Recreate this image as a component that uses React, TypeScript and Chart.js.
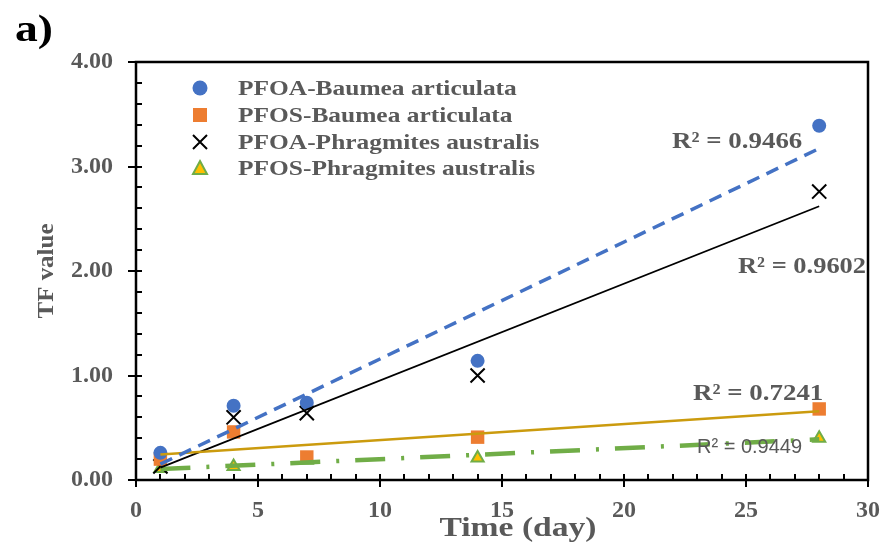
import React, { useEffect, useRef } from 'react';
import { Chart, registerables } from 'chart.js';

Chart.register(...registerables);

// ---- data ----
const days = [1, 4, 7, 14, 28];
const pfoaBaumea = [0.26, 0.71, 0.74, 1.14, 3.39];
const pfosBaumea = [0.2, 0.46, 0.22, 0.41, 0.68];
const pfoaPhragmites = [0.13, 0.6, 0.64, 1.0, 2.76];
const pfosPhragmites = [0.11, 0.13, 0.19, 0.21, 0.4];
const seriesNames = [
  'PFOA-Baumea articulata',
  'PFOS-Baumea articulata',
  'PFOA-Phragmites australis',
  'PFOS-Phragmites australis',
];
const r2Texts = ['R² = 0.9466', 'R² = 0.7241', 'R² = 0.9602', 'R² = 0.9449'];
const xTitle = 'Time (day)';
const yTitle = 'TF value';
const panelLabel = 'a)';

const BLUE = '#4472C4';
const ORANGE = '#ED7D31';
const GREEN = '#70AD47';
const GOLD = '#FFC000';
const TREND_GOLD = '#CB9B0E';
const GRAY = '#595959';
const SERIF = '"Liberation Serif", "DejaVu Serif", serif';

function pts(ys: number[]) {
  return days.map((d, i) => ({ x: d, y: ys[i] }));
}

// least-squares linear trend line (as the spreadsheet's trendline)
function trend(ys: number[]) {
  const n = days.length;
  const mx = days.reduce((a, b) => a + b, 0) / n;
  const my = ys.reduce((a, b) => a + b, 0) / n;
  let sxy = 0;
  let sxx = 0;
  days.forEach((d, i) => {
    sxy += (d - mx) * (ys[i] - my);
    sxx += (d - mx) * (d - mx);
  });
  const b = sxy / sxx;
  const a = my - b * mx;
  const x0 = days[0];
  const x1 = days[n - 1];
  return [
    { x: x0, y: a + b * x0 },
    { x: x1, y: a + b * x1 },
  ];
}

function stretchText(
  ctx: CanvasRenderingContext2D,
  text: string,
  x: number,
  y: number,
  font: string,
  color: string,
  sx: number,
  align: CanvasTextAlign = 'left',
  rot = 0
) {
  ctx.save();
  ctx.font = font;
  ctx.fillStyle = color;
  ctx.textAlign = align;
  ctx.textBaseline = 'alphabetic';
  ctx.translate(x, y);
  if (rot) ctx.rotate(rot);
  ctx.scale(sx, 1);
  ctx.fillText(text, 0, 0);
  ctx.restore();
}

const overlay = {
  id: 'overlay',
  afterDraw(chart: any) {
    const ctx: CanvasRenderingContext2D = chart.ctx;
    const a = chart.chartArea;
    const xs = chart.scales.x;
    const ys = chart.scales.y;
    ctx.save();
    // frame
    ctx.strokeStyle = '#000';
    ctx.lineWidth = 2.5;
    ctx.strokeRect(a.left, a.top, a.right - a.left, a.bottom - a.top);
    // tick marks
    ctx.lineWidth = 2;
    ctx.beginPath();
    for (let i = 0; i <= 20; i++) {
      const py = Math.round(ys.getPixelForValue(i * 0.2));
      const major = i % 5 === 0;
      ctx.moveTo(major ? a.left - 8 : a.left, py);
      ctx.lineTo(a.left + 6, py);
    }
    for (let v = 0; v <= 30; v++) {
      const px = Math.round(xs.getPixelForValue(v));
      const major = v % 5 === 0;
      ctx.moveTo(px, a.bottom - 6);
      ctx.lineTo(px, major ? a.bottom + 7 : a.bottom);
    }
    ctx.stroke();

    // legend
    const lx = 200;
    const rows = [88, 115, 142, 168];
    ctx.fillStyle = BLUE;
    ctx.beginPath();
    ctx.arc(lx, rows[0], 7.5, 0, Math.PI * 2);
    ctx.fill();
    ctx.fillStyle = ORANGE;
    ctx.fillRect(lx - 7, rows[1] - 7, 14, 14);
    ctx.strokeStyle = '#000';
    ctx.lineWidth = 2;
    ctx.beginPath();
    ctx.moveTo(lx - 7, rows[2] - 7);
    ctx.lineTo(lx + 7, rows[2] + 7);
    ctx.moveTo(lx + 7, rows[2] - 7);
    ctx.lineTo(lx - 7, rows[2] + 7);
    ctx.stroke();
    ctx.fillStyle = GOLD;
    ctx.strokeStyle = GREEN;
    ctx.lineWidth = 2;
    ctx.beginPath();
    ctx.moveTo(lx, rows[3] - 7);
    ctx.lineTo(lx + 7, rows[3] + 6);
    ctx.lineTo(lx - 7, rows[3] + 6);
    ctx.closePath();
    ctx.fill();
    ctx.stroke();
    seriesNames.forEach((name, i) => {
      stretchText(ctx, name, 238, rows[i] + 7, `bold 21px ${SERIF}`, GRAY, 1.21);
    });

    // R² labels
    const rFont = `bold 23px ${SERIF}`;
    stretchText(ctx, r2Texts[0], 672, 148, rFont, GRAY, 1.17);
    stretchText(ctx, r2Texts[1], 693, 400, rFont, GRAY, 1.17);
    stretchText(ctx, r2Texts[2], 738, 273, rFont, GRAY, 1.15);
    stretchText(ctx, r2Texts[3], 697, 453, '20px "Liberation Sans", Arial, sans-serif', GRAY, 1.0);

    // axis titles
    stretchText(ctx, xTitle, 518, 536, `bold 28px ${SERIF}`, GRAY, 1.2, 'center');
    stretchText(ctx, yTitle, 53, 271, `bold 23px ${SERIF}`, GRAY, 1.085, 'center', -Math.PI / 2);

    // panel label
    stretchText(ctx, panelLabel, 15, 41, `bold 38px ${SERIF}`, '#000', 1.2);
    ctx.restore();
  },
};

export default function App() {
  const ref = useRef<HTMLCanvasElement | null>(null);

  useEffect(() => {
    if (!ref.current) return;
    const tickFont = { family: SERIF, size: 24, weight: 'bold' as const };
    const chart = new Chart(ref.current, {
      type: 'scatter',
      data: {
        datasets: [
          {
            label: seriesNames[0] + ' trend',
            data: trend(pfoaBaumea),
            showLine: true,
            borderColor: BLUE,
            borderWidth: 3.5,
            borderDash: [13, 8],
            pointRadius: 0,
            order: 0,
          },
          {
            label: seriesNames[1] + ' trend',
            data: trend(pfosBaumea),
            showLine: true,
            borderColor: TREND_GOLD,
            borderWidth: 2.5,
            pointRadius: 0,
            order: 0,
          },
          {
            label: seriesNames[2] + ' trend',
            data: trend(pfoaPhragmites),
            showLine: true,
            borderColor: '#000',
            borderWidth: 1.8,
            pointRadius: 0,
            order: 0,
          },
          {
            label: seriesNames[3] + ' trend',
            data: trend(pfosPhragmites),
            showLine: true,
            borderColor: GREEN,
            borderWidth: 4.5,
            borderDash: [30, 16, 3, 16],
            pointRadius: 0,
            order: 0,
          },
          {
            label: seriesNames[0],
            data: pts(pfoaBaumea),
            pointStyle: 'circle',
            pointRadius: 7,
            backgroundColor: BLUE,
            borderColor: BLUE,
            borderWidth: 0,
            order: 1,
          },
          {
            label: seriesNames[1],
            data: pts(pfosBaumea),
            pointStyle: 'rect',
            pointRadius: 9.5,
            backgroundColor: ORANGE,
            borderColor: ORANGE,
            borderWidth: 0,
            order: 1,
          },
          {
            label: seriesNames[2],
            data: pts(pfoaPhragmites),
            pointStyle: 'crossRot',
            pointRadius: 10,
            backgroundColor: '#000',
            borderColor: '#000',
            borderWidth: 2,
            order: 1,
          },
          {
            label: seriesNames[3],
            data: pts(pfosPhragmites),
            pointStyle: 'triangle',
            pointRadius: 7,
            backgroundColor: GOLD,
            borderColor: GREEN,
            borderWidth: 2,
            order: 1,
          },
        ],
      },
      options: {
        animation: false,
        responsive: false,
        devicePixelRatio: 1,
        layout: { padding: { top: 62, right: 15, left: 0, bottom: 0 } },
        plugins: {
          legend: { display: false },
          tooltip: { enabled: false },
        },
        scales: {
          x: {
            type: 'linear',
            min: 0,
            max: 30,
            ticks: {
              stepSize: 5,
              color: GRAY,
              font: tickFont,
              padding: 16,
              maxRotation: 0,
            },
            grid: { display: false, drawTicks: false },
            border: { display: false },
            afterFit: (s: any) => {
              s.height = 70;
            },
          },
          y: {
            type: 'linear',
            min: 0,
            max: 4,
            ticks: {
              stepSize: 1,
              color: GRAY,
              font: tickFont,
              padding: 23,
              callback: (v: any) => Number(v).toFixed(2),
            },
            grid: { display: false, drawTicks: false },
            border: { display: false },
            afterFit: (s: any) => {
              s.width = 136;
            },
          },
        },
      },
      plugins: [overlay],
    });
    return () => chart.destroy();
  }, []);

  return (
    <div style={{ position: 'fixed', left: 0, top: 0, width: 896, height: 550, background: '#fff' }}>
      <canvas ref={ref} width={896} height={550} style={{ width: 896, height: 550 }} />
    </div>
  );
}
